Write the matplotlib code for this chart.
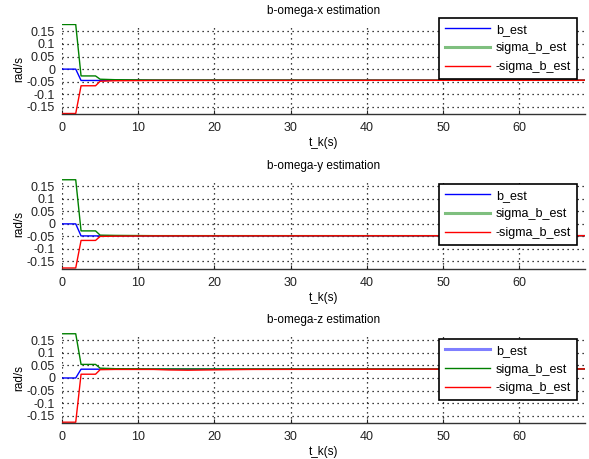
"""Bias estimation plots (b-omega x/y/z) in MATLAB-like style."""
import matplotlib
matplotlib.use('Agg')
import matplotlib.pyplot as plt

plt.rcParams['font.family'] = ['Liberation Sans', 'DejaVu Sans']

# time breakpoints (s)
t_x = [0, 1.8, 2.5, 4.4, 5.0, 7.0, 12.0, 68.6]
b_x = [0, 0, -0.045, -0.045, -0.045, -0.044, -0.044, -0.044]
sig_x = [0.177, 0.177, -0.027, -0.027, -0.040, -0.042, -0.043, -0.044]
nsig_x = [-0.176, -0.176, -0.066, -0.066, -0.048, -0.046, -0.045, -0.044]

t_y = [0, 1.8, 2.5, 4.4, 5.0, 7.0, 12.0, 68.6]
b_y = [0, 0, -0.048, -0.048, -0.048, -0.048, -0.048, -0.047]
sig_y = [0.176, 0.176, -0.028, -0.028, -0.045, -0.046, -0.047, -0.047]
nsig_y = [-0.176, -0.176, -0.066, -0.066, -0.050, -0.049, -0.048, -0.047]

t_z = [0, 1.8, 2.5, 4.4, 5.0, 7.0, 12.0, 14.0, 16.5, 19.0, 25.0, 68.6]
b_z = [0, 0, 0.035, 0.035, 0.035, 0.035, 0.035, 0.035, 0.035, 0.035, 0.035, 0.036]
sig_z = [0.176, 0.176, 0.054, 0.054, 0.039, 0.037, 0.036, 0.036, 0.036, 0.036, 0.036, 0.036]
nsig_z = [-0.176, -0.176, 0.015, 0.015, 0.033, 0.034, 0.034, 0.032, 0.031, 0.032, 0.034, 0.036]

titles = ["b-omega-x estimation", "b-omega-y estimation", "b-omega-z estimation"]
labels = ["b_est", "sigma_b_est", "-sigma_b_est"]
yticks = [-0.15, -0.1, -0.05, 0, 0.05, 0.1, 0.15]
ytick_labels = ["-0.15", "-0.1", "-0.05", "0", "0.05", "0.1", "0.15"]
xticks = [0, 10, 20, 30, 40, 50, 60]

series = [
    (t_x, b_x, sig_x, nsig_x),
    (t_y, b_y, sig_y, nsig_y),
    (t_z, b_z, sig_z, nsig_z),
]

W, H = 589, 459
fig = plt.figure(figsize=(W / 100, H / 100), dpi=100)

# axes boxes in pixels: (top, bottom), and legend top-left corner
ax_rows = [(24, 114), (179, 268.5), (333, 422.7)]
leg_tops = [18, 184, 339]
faded = [1, 1, 0]  # legend entry that looks washed out in the original

left_px, right_px = 62, 585
for i, (t, b, s, ns) in enumerate(series):
    top, bot = ax_rows[i]
    ax = fig.add_axes([left_px / W, 1 - bot / H, (right_px - left_px) / W, (bot - top) / H])
    ax.plot(t, b, color="#0000ff", lw=1.0, label=labels[0])
    ax.plot(t, s, color="#008000", lw=1.0, label=labels[1])
    ax.plot(t, ns, color="#ff0000", lw=1.0, label=labels[2])

    ax.set_xlim(0, 68.6)
    ax.set_ylim(-0.178, 0.179)
    ax.set_xticks(xticks)
    ax.set_yticks(yticks)
    ax.set_yticklabels(ytick_labels)
    ax.tick_params(labelsize=9, direction="in", length=3, colors="#222222", pad=6)
    ax.tick_params(axis="y", length=0, pad=5)
    ax.grid(True, linestyle=(0, (1, 3)), color="black", linewidth=0.9)
    for side in ["top", "right", "left"]:
        ax.spines[side].set_visible(False)
    ax.spines["bottom"].set_color("#333333")
    ax.spines["bottom"].set_linewidth(1.0)

    ax.set_title(titles[i], fontsize=8.5, pad=7)
    ax.set_xlabel("t_k(s)", fontsize=8.5, labelpad=2)
    ax.set_ylabel("rad/s", fontsize=8.5, labelpad=1)

    leg = ax.legend(loc="upper left", bbox_to_anchor=(439 / W, 1 - leg_tops[i] / H),
                    bbox_transform=fig.transFigure, borderaxespad=0,
                    fontsize=9, fancybox=False, framealpha=1,
                    edgecolor="black", handlelength=3.6, handletextpad=0.5,
                    labelspacing=0.55, borderpad=0.45)
    leg.get_frame().set_linewidth(1.2)
    leg.set_zorder(5)
    for ln in leg.get_lines():
        ln.set_linewidth(1.0)
    fl = leg.get_lines()[faded[i]]
    fl.set_linewidth(2.2)
    fl.set_alpha(0.5)

fig.savefig("out.png", dpi=100)
